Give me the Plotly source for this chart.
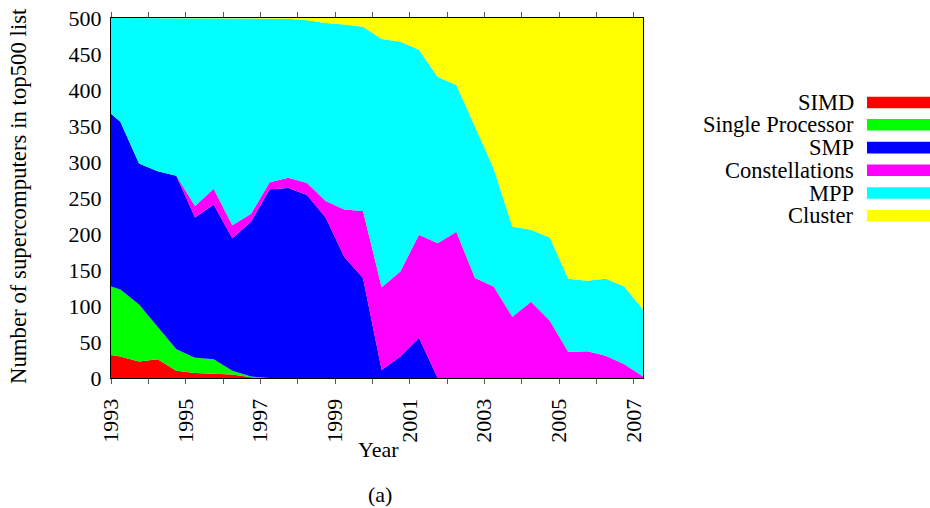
import plotly.graph_objects as go

# ---- data ----
years = [1993.0, 1993.25, 1993.75, 1994.25, 1994.75, 1995.25, 1995.75, 1996.25,
         1996.75, 1997.25, 1997.75, 1998.25, 1998.75, 1999.25, 1999.75, 2000.25,
         2000.75, 2001.25, 2001.75, 2002.25, 2002.75, 2003.25, 2003.75, 2004.25,
         2004.75, 2005.25, 2005.75, 2006.25, 2006.75, 2007.25]

simd = [32, 30, 23, 26, 10, 7, 6, 5, 1, 0, 0, 0, 0, 0, 0, 0, 0, 0, 0, 0,
        0, 0, 0, 0, 0, 0, 0, 0, 0, 0]
single_proc = [95, 93, 79, 45, 30, 21, 20, 5, 1, 0, 0, 0, 0, 0, 0, 0, 0, 0, 0, 0,
               0, 0, 0, 0, 0, 0, 0, 0, 0, 0]
smp = [240, 233, 196, 216, 241, 195, 215, 184, 215, 262, 264, 254, 223, 168, 139, 11,
       30, 56, 0, 0, 0, 0, 0, 0, 0, 0, 0, 0, 0, 0]
constellations = [0, 0, 0, 0, 0, 16, 22, 18, 11, 10, 14, 17, 23, 66, 93, 115,
                  118, 143, 187, 203, 139, 127, 85, 106, 80, 36, 37, 31, 19, 2]
mpp = [133, 144, 202, 213, 219, 261, 237, 288, 272, 228, 221, 226, 247, 257, 256, 345,
       319, 257, 231, 204, 210, 164, 125, 100, 115, 102, 98, 107, 108, 93]
cluster = [0, 0, 0, 0, 0, 0, 0, 0, 0, 0, 1, 3, 7, 9, 12, 29,
           33, 44, 82, 93, 151, 209, 290, 294, 305, 362, 365, 362, 373, 405]

series_names = ["SIMD", "Single Processor", "SMP", "Constellations", "MPP", "Cluster"]
series_values = [simd, single_proc, smp, constellations, mpp, cluster]
series_colors = ["#ff0000", "#00ff00", "#0000ff", "#ff00ff", "#00ffff", "#ffff00"]

tick_years = list(range(1993, 2008))
tick_labels = [str(y) if y % 2 == 1 else "" for y in tick_years]
y_ticks = [0, 50, 100, 150, 200, 250, 300, 350, 400, 450, 500]

FONT = "Liberation Serif"

# ---- layout geometry (pixels) ----
W, H = 930, 508
PL, PR, PT, PB = 111, 643, 18, 378


def px_x(px):
    return (px - PL) / (PR - PL)


def px_y(py):
    return (PB - py) / (PB - PT)


fig = go.Figure()
for name, vals, col in zip(series_names, series_values, series_colors):
    fig.add_trace(go.Scatter(
        x=years, y=vals, name=name, mode="lines",
        stackgroup="one", line=dict(width=0, color=col),
        fillcolor=col, hoverinfo="skip", showlegend=False,
    ))

# custom legend: text right-aligned, swatch on the right
leg_rows = [102.5, 124.8, 147.6, 170.3, 193.0, 215.8]
for name, col, cy in zip(series_names, series_colors, leg_rows):
    fig.add_annotation(
        xref="paper", yref="paper", x=px_x(855), y=px_y(cy),
        xanchor="right", yanchor="middle", text=name, showarrow=False,
        borderpad=0,
        font=dict(family=FONT, size=22.5, color="black"),
    )
    fig.add_shape(
        type="rect", xref="paper", yref="paper",
        x0=px_x(867), x1=px_x(930), y0=px_y(cy - 5.8), y1=px_y(cy + 5.8),
        fillcolor=col, line=dict(width=0),
    )

fig.add_annotation(
    xref="paper", yref="paper", x=px_x(18), y=px_y(196),
    xanchor="center", yanchor="middle", textangle=-90,
    text="Number of supercomputers in top500 list", showarrow=False,
    font=dict(family=FONT, size=22.8, color="black"),
)
fig.add_annotation(
    xref="paper", yref="paper", x=px_x(378), y=px_y(449),
    xanchor="center", yanchor="middle", text="Year", showarrow=False,
    font=dict(family=FONT, size=22, color="black"),
)
fig.add_annotation(
    xref="paper", yref="paper", x=px_x(380), y=px_y(494),
    xanchor="center", yanchor="middle", text="(a)", showarrow=False,
    font=dict(family=FONT, size=22, color="black"),
)

fig.update_layout(
    width=W, height=H,
    margin=dict(l=PL, r=W - PR, t=PT, b=H - PB, pad=0, autoexpand=False),
    paper_bgcolor="white", plot_bgcolor="white",
    font=dict(family=FONT, size=22, color="black"),
    showlegend=False,
    xaxis=dict(
        range=[1993, 2007.25], tickmode="array", tickvals=tick_years,
        ticktext=tick_labels, tickangle=-90, ticks="outside", ticklen=5,
        tickcolor="#555", tickwidth=1, showline=True, linecolor="black",
        linewidth=1, mirror="allticks", showgrid=False, zeroline=False,
        ticklabelstandoff=6, automargin=False,
        tickfont=dict(family=FONT, size=22, color="black"),
    ),
    yaxis=dict(
        range=[0, 500], tickmode="array", tickvals=y_ticks,
        ticks="", showline=True, linecolor="black", linewidth=1,
        mirror=True, showgrid=False, zeroline=False, ticklabelstandoff=4,
        automargin=False,
        tickfont=dict(family=FONT, size=22, color="black"),
    ),
)

fig.write_html(
    "out.html",
    config={"displayModeBar": False},
    post_script="document.body.style.margin='0';document.body.style.overflow='hidden';",
)
